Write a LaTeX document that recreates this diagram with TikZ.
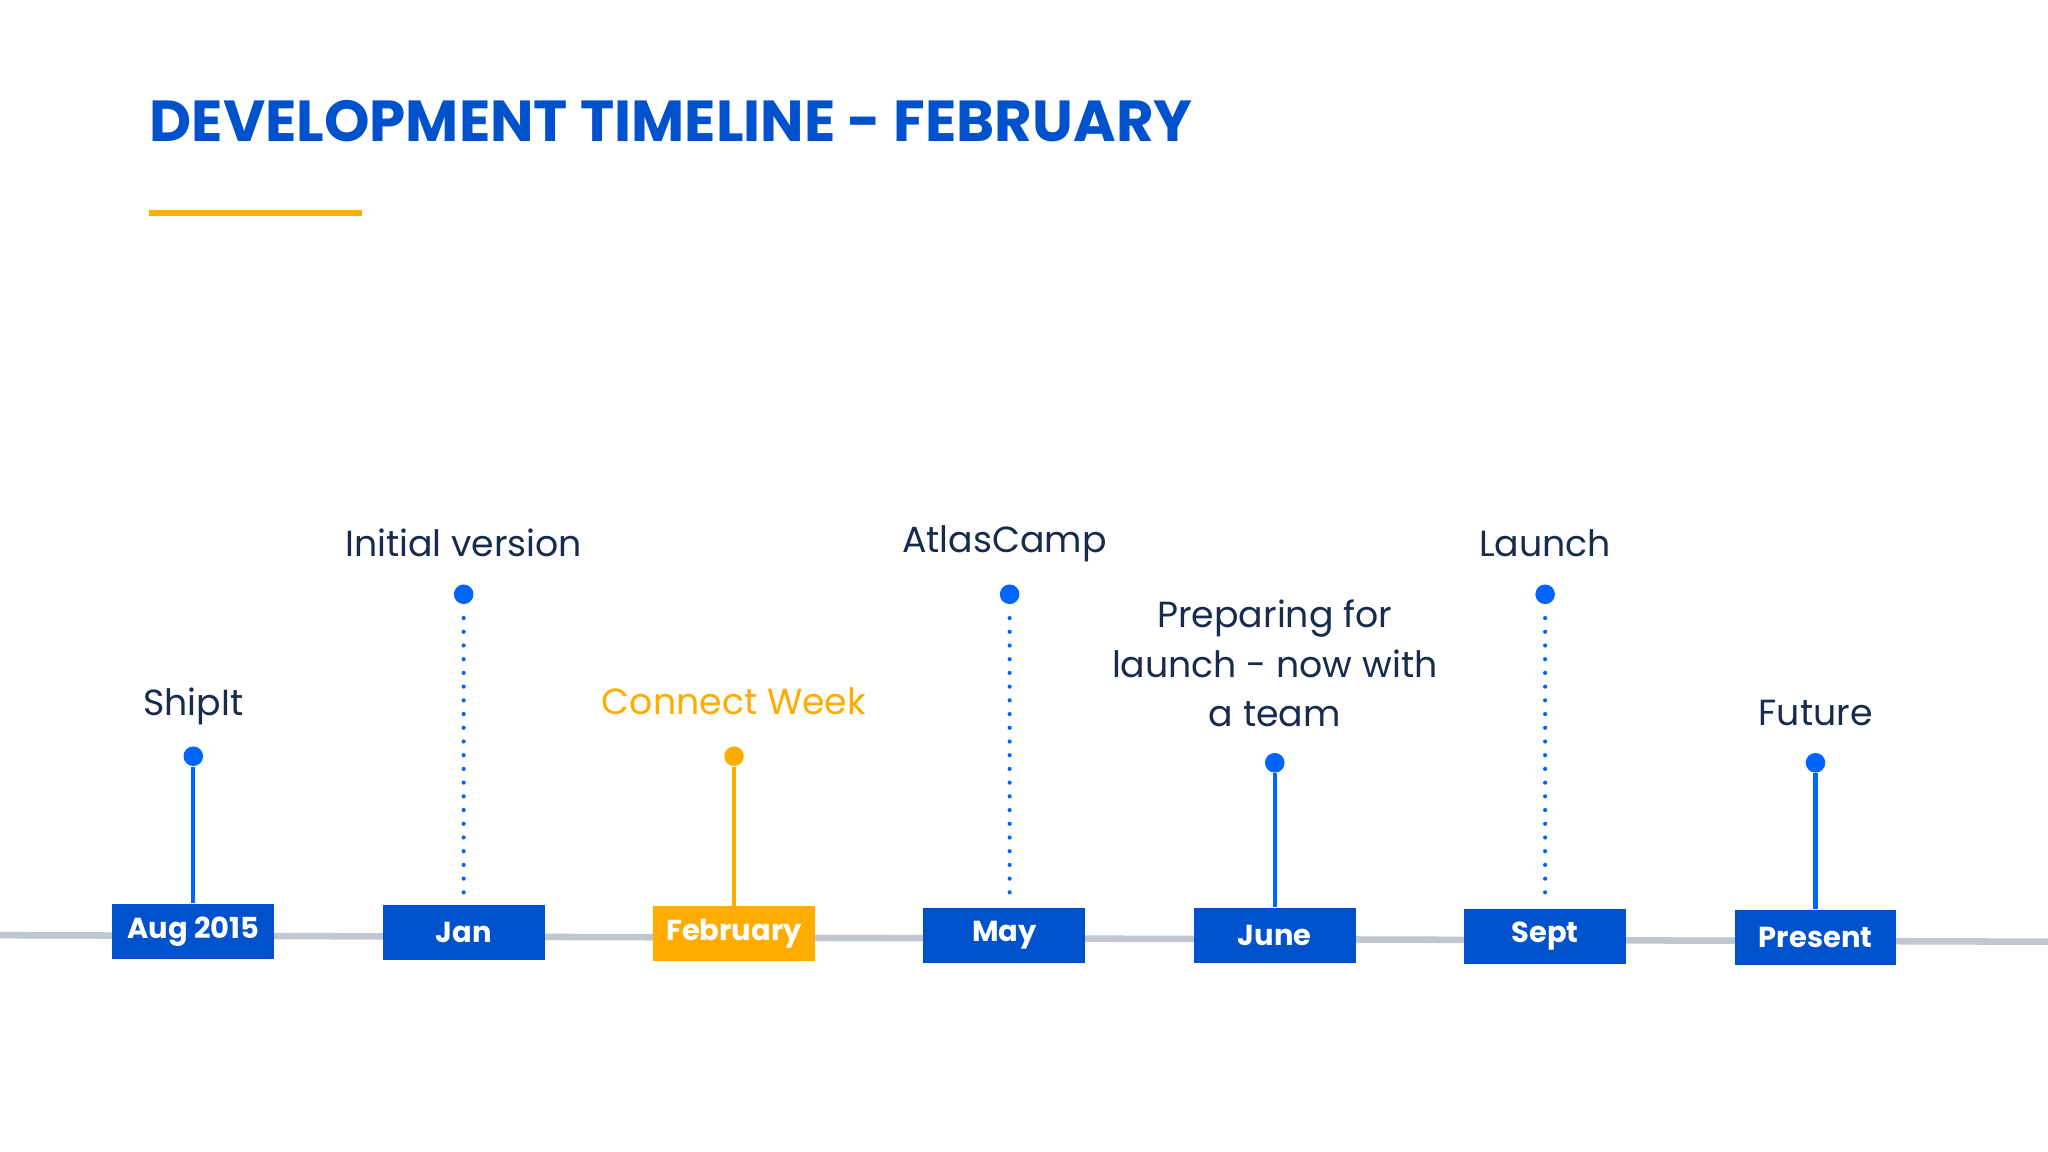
\documentclass[tikz,border=0pt]{standalone}
\usepackage{fontspec}
\usetikzlibrary{calc}
\setmainfont{Poppins}
\definecolor{tblue}{HTML}{0052CC}
\definecolor{dblue}{HTML}{0065FF}
\definecolor{torange}{HTML}{FFAB00}
\definecolor{tgray}{HTML}{C1C7D0}
\definecolor{tdark}{HTML}{172B4D}
\begin{document}
\begin{tikzpicture}[x=0.01cm,y=-0.01cm,
  datebox/.style={fill=#1,minimum width=124*0.01cm,minimum height=42*0.01cm,inner sep=0pt,text=white,font=\fontsize{6.3pt}{7pt}\selectfont\bfseries},
  lbl/.style={text=tdark,font=\fontsize{7.9pt}{10.8pt}\selectfont,align=center,inner sep=0pt},
  dotmark/.style={circle,fill=#1,minimum size=15*0.01cm,inner sep=0pt},
  stem/.style={line width=3.2*0.01cm,draw=#1},
  dots/.style={line width=3.2*0.01cm,draw=dblue,dash pattern=on 0pt off 10.5*0.01cm,line cap=round}]
\useasboundingbox[fill=white] (0,0) rectangle (1568,882);
\node[anchor=base west,inner sep=0pt,text=tblue,font=\fontsize{12.6pt}{14pt}\selectfont\bfseries] (title) at (114,108) {DEVELOPMENT TIMELINE - FEBRUARY};
\draw[torange,line width=5*0.01cm] (114,163) -- (277,163);
\coordinate (l0) at (0,716); \coordinate (l1) at (1568,721);
\draw[tgray,line width=5*0.01cm] (l0) -- (l1);
% boxes
\node[datebox=tblue] (b1) at (148,713) {Aug 2015};
\node[datebox=tblue] (b2) at (355,714) {Jan};
\node[datebox=torange] (b3) at (562,715) {February};
\node[datebox=tblue] (b4) at (769,716) {May};
\node[datebox=tblue] (b5) at (976,716) {June};
\node[datebox=tblue] (b6) at (1183,717) {Sept};
\node[datebox=tblue] (b7) at (1390,718) {Present};
% dots
\node[dotmark=dblue] (d1) at (148,579) {};
\node[dotmark=dblue] (d2) at (355,455) {};
\node[dotmark=torange] (d3) at (562,579) {};
\node[dotmark=dblue] (d4) at (773,455) {};
\node[dotmark=dblue] (d5) at (976,584) {};
\node[dotmark=dblue] (d6) at (1183,455) {};
\node[dotmark=dblue] (d7) at (1390,584) {};
\draw[stem=dblue] (d1) -- (b1.north);
\draw[stem=torange] (d3) -- (b3.north);
\draw[stem=dblue] (d5) -- (b5.north);
\draw[stem=dblue] (d7) -- (b7.north);
\draw[dots] ($(d2.south)+(0,10)$) -- ($(b2.north)+(0,-4)$);
\draw[dots] ($(d4.south)+(0,10)$) -- (773,690);
\draw[dots] ($(d6.south)+(0,10)$) -- ($(b6.north)+(0,-4)$);
% labels
\node[lbl] (t1) at (148,541) {ShipIt};
\node[lbl] (t2) at (355,416) {Initial version};
\node[lbl,text=torange] (t3) at (562,537) {Connect Week};
\node[lbl] (t4) at (769,416) {AtlasCamp};
\node[lbl] (t5) at (976,508) {Preparing for\\launch - now with\\a team};
\node[lbl] (t6) at (1183,416) {Launch};
\node[lbl] (t7) at (1390,546) {Future};
\end{tikzpicture}
\end{document}
